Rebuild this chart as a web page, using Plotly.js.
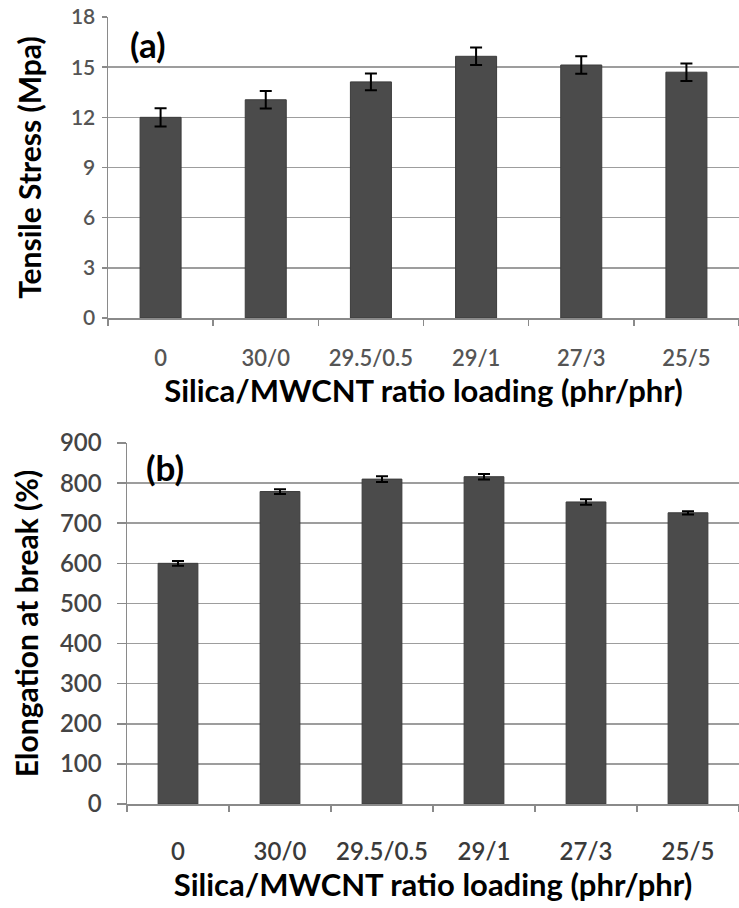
<!DOCTYPE html>
<html>
<head>
<meta charset="utf-8">
<script src="https://cdn.plot.ly/plotly-3.0.1.min.js"></script>
<style>
  html, body { margin: 0; padding: 0; background: #fff; }
  #chart { width: 739px; height: 908px; }
</style>
</head>
<body>
<div id="chart"></div>
<script>
// Silica/MWCNT loading ratios (phr/phr)
const categories = ['0', '30/0', '29.5/0.5', '29/1', '27/3', '25/5'];

// (a) tensile stress, MPa, with standard deviation
const tensileStress = [12.0, 13.05, 14.12, 15.65, 15.13, 14.7];
const tensileErr    = [0.55, 0.52, 0.5, 0.52, 0.52, 0.52];

// (b) elongation at break, %, with standard deviation
const elongation    = [600, 779, 810, 816, 753, 726];
const elongationErr = [6, 6, 7, 7, 7, 4];

const FONT = 'Lato, "Open Sans", sans-serif';
const BAR = '#4b4b4b';
const GRID = '#9d9d9d';
const AXIS = '#8a8a8a';

const traces = [
  {
    type: 'bar', x: categories, y: tensileStress,
    xaxis: 'x', yaxis: 'y',
    marker: { color: BAR, line: { color: '#3c3c3c', width: 1 } },
    error_y: { type: 'data', array: tensileErr, visible: true, color: '#000', thickness: 2, width: 6 },
    hoverinfo: 'x+y', showlegend: false
  },
  {
    type: 'bar', x: categories, y: elongation,
    xaxis: 'x2', yaxis: 'y2',
    marker: { color: BAR, line: { color: '#3c3c3c', width: 1 } },
    error_y: { type: 'data', array: elongationErr, visible: true, color: '#000', thickness: 2, width: 6 },
    hoverinfo: 'x+y', showlegend: false
  }
];

const xBase = {
  type: 'category',
  showgrid: false,
  showline: true, linecolor: AXIS, linewidth: 1.5,
  ticks: 'outside', tickson: 'boundaries', ticklen: 6, tickcolor: AXIS, tickwidth: 1.5,
  tickangle: 0,
  zeroline: false, fixedrange: true
};
const yBase = {
  showgrid: true, gridcolor: GRID, gridwidth: 1.5,
  showline: true, linecolor: AXIS, linewidth: 1.5,
  ticks: 'outside', tickcolor: AXIS, tickwidth: 1.5,
  zeroline: false, fixedrange: true
};

const layout = {
  width: 739, height: 908,
  margin: { l: 0, r: 0, t: 17, b: 104 },
  paper_bgcolor: '#fff', plot_bgcolor: '#fff',
  font: { family: FONT, color: '#000' },
  bargap: 0.61,
  xaxis: Object.assign({}, xBase, {
    domain: [108 / 739, 1], anchor: 'y',
    tickfont: { family: FONT, size: 22, color: '#555', weight: 600 },
    ticklabelstandoff: 20,
    title: { text: 'Silica/MWCNT ratio loading (phr/phr)', font: { family: FONT, size: 31, color: '#000', weight: 'bold' }, standoff: 1 }
  }),
  yaxis: Object.assign({}, yBase, {
    domain: [0.6175, 1], anchor: 'x',
    range: [0, 18], dtick: 3, ticklen: 5, ticklabelstandoff: 2,
    tickfont: { family: FONT, size: 21, color: '#555', weight: 600 },
    title: { text: 'Tensile Stress (Mpa)', font: { family: FONT, size: 30, color: '#000', weight: 'bold' }, standoff: 20 }
  }),
  xaxis2: Object.assign({}, xBase, {
    domain: [127 / 739, 1], anchor: 'y2',
    tickfont: { family: FONT, size: 24, color: '#3a3a3a', weight: 600 },
    ticklabelstandoff: 26,
    title: { text: 'Silica/MWCNT ratio loading (phr/phr)', font: { family: FONT, size: 31, color: '#000', weight: 'bold' }, standoff: 0 }
  }),
  yaxis2: Object.assign({}, yBase, {
    domain: [0, 0.4587], anchor: 'x2',
    range: [0, 900], dtick: 100, ticklen: 9, ticklabelstandoff: 10,
    tickfont: { family: FONT, size: 24, color: '#444', weight: 600 },
    title: { text: 'Elongation at break (%)', font: { family: FONT, size: 30, color: '#000', weight: 'bold' }, standoff: 12 }
  }),
  annotations: [
    { text: '(a)', xref: 'paper', yref: 'paper', x: 148 / 739, y: (804 - 44) / 787,
      showarrow: false, font: { family: FONT, size: 35, color: '#000', weight: 'bold' }, xanchor: 'center', yanchor: 'middle' },
    { text: '(b)', xref: 'paper', yref: 'paper', x: 165 / 739, y: (804 - 467) / 787,
      showarrow: false, font: { family: FONT, size: 35, color: '#000', weight: 'bold' }, xanchor: 'center', yanchor: 'middle' }
  ]
};

Plotly.newPlot('chart', traces, layout, { displayModeBar: false, staticPlot: true });
</script>
</body>
</html>
